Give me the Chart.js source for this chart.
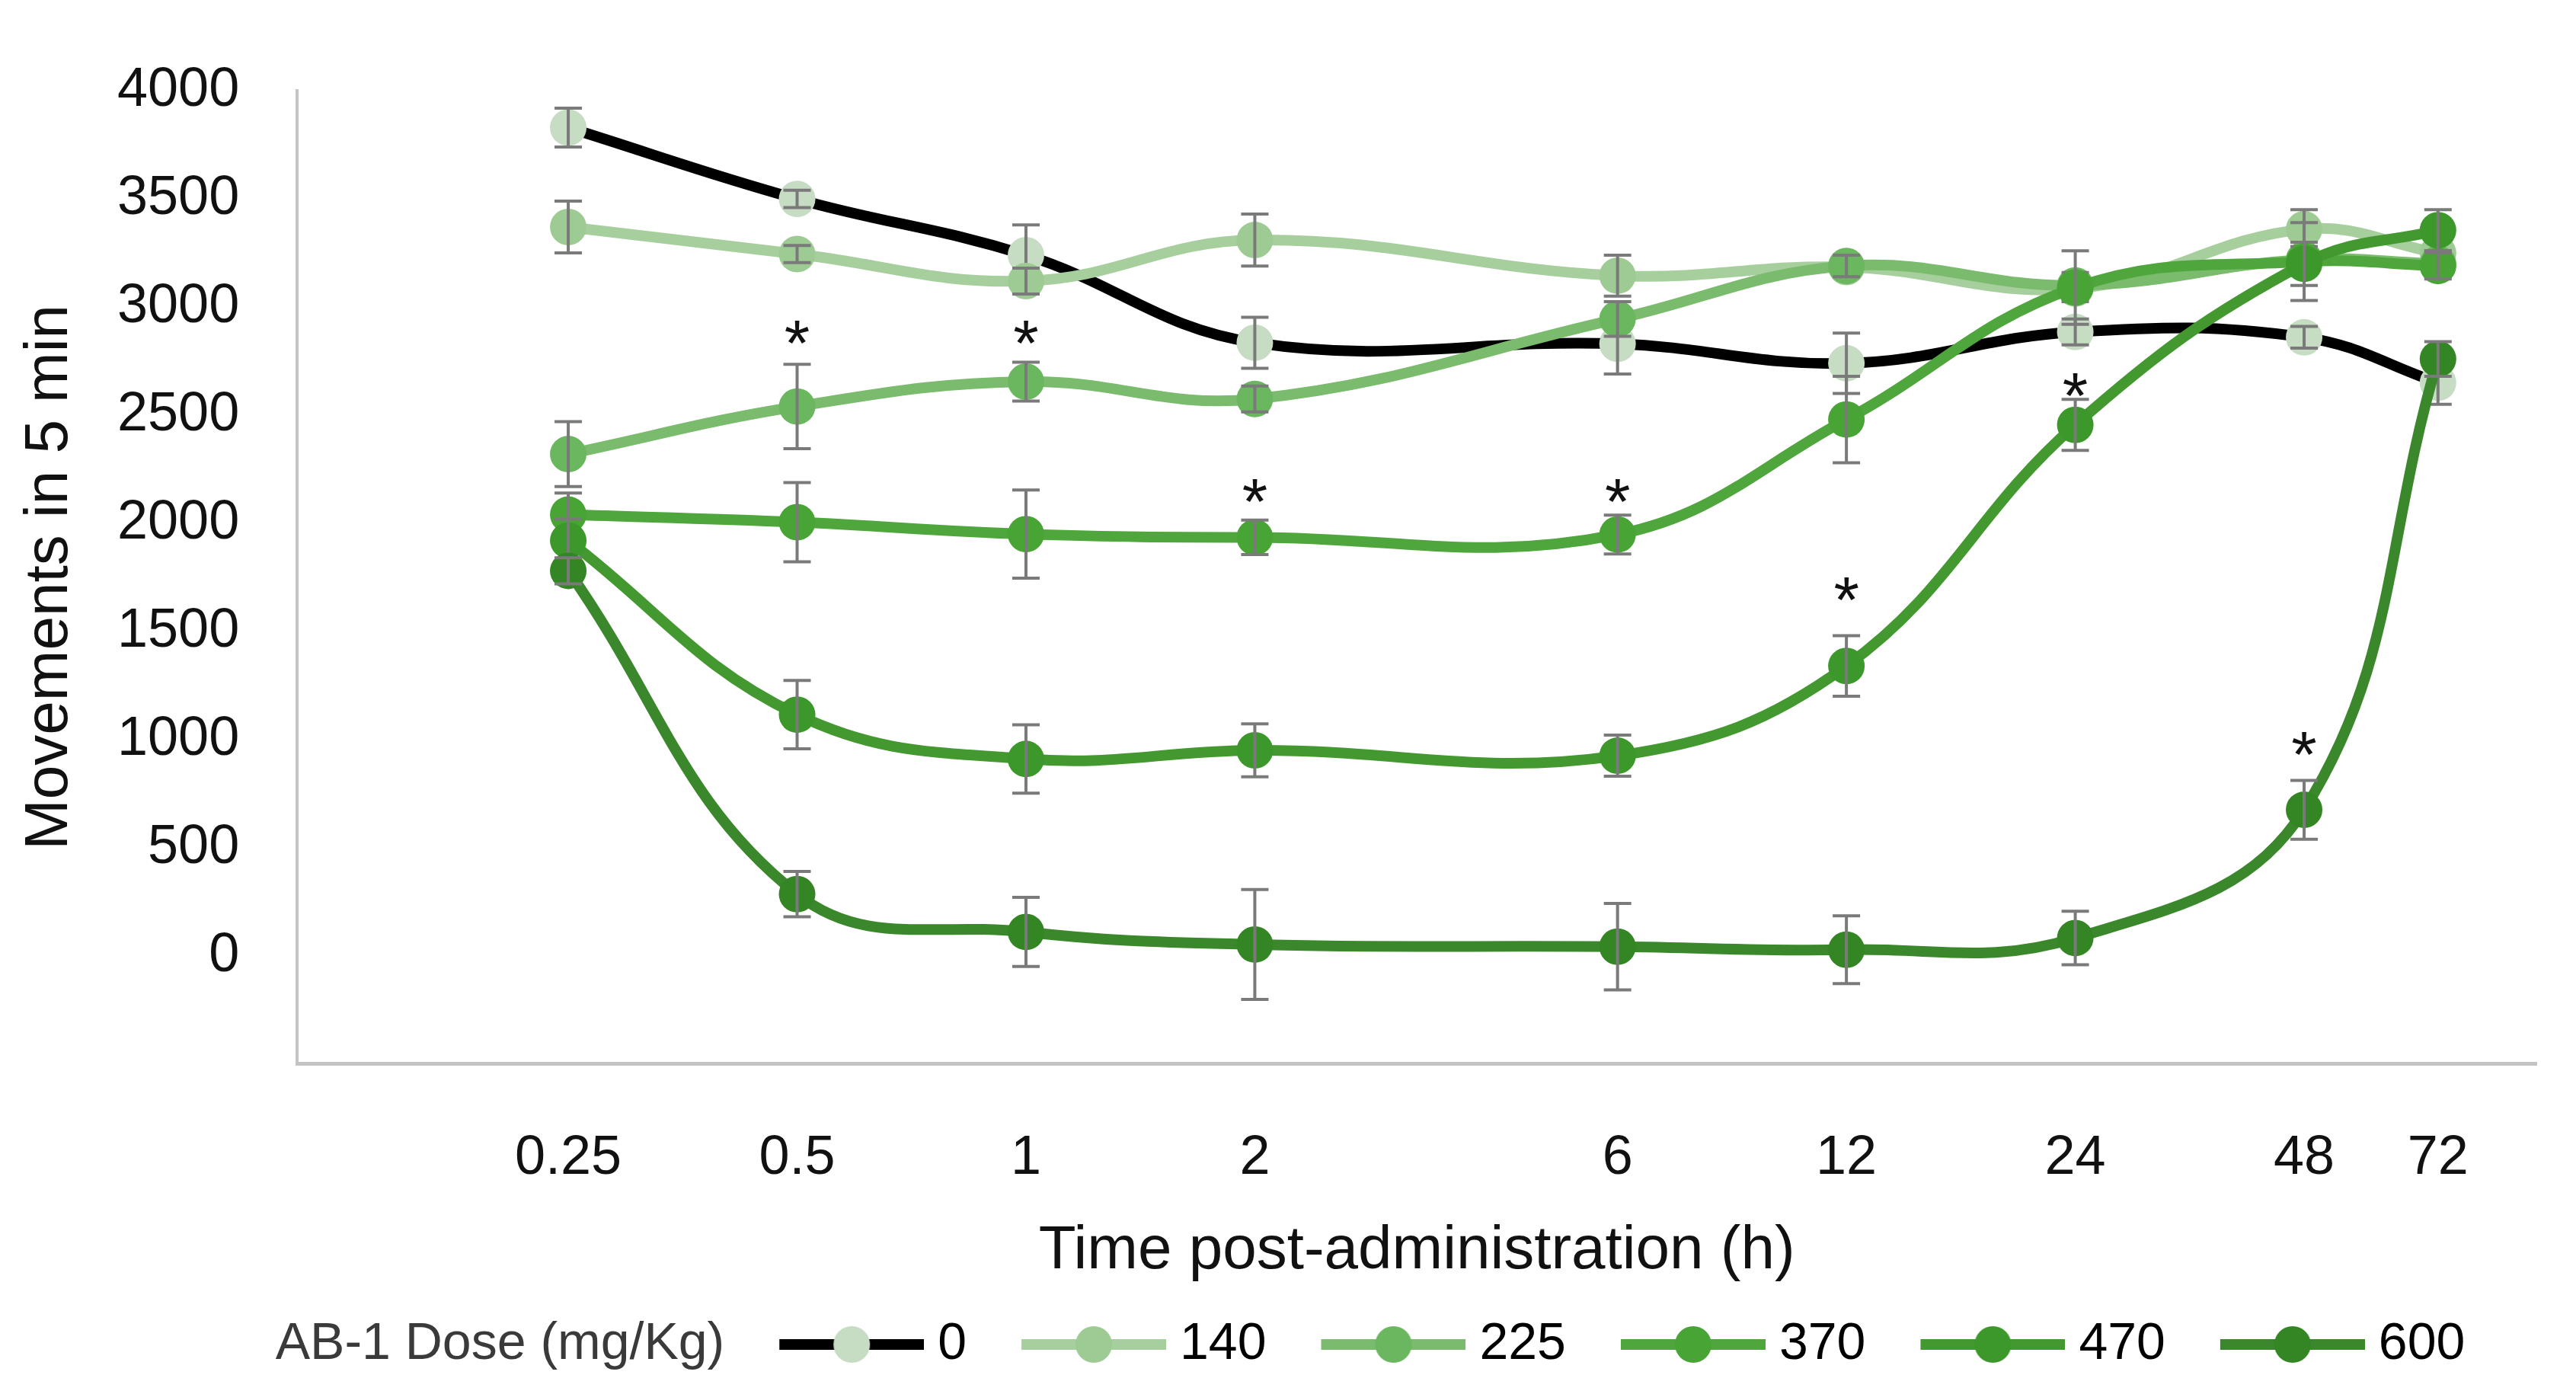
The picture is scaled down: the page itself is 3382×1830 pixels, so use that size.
<!DOCTYPE html>
<html>
<head>
<meta charset="utf-8">
<script src="https://cdn.jsdelivr.net/npm/chart.js@4.4.1/dist/chart.umd.min.js"></script>
<style>
html,body{margin:0;padding:0;background:#fff;}
#wrap{width:3382px;height:1830px;position:relative;}
</style>
</head>
<body>
<div id="wrap"><canvas id="c"></canvas></div>
<script>
// ---- data ----
const timePoints = [0.25, 0.5, 1, 2, 6, 12, 24, 48, 72];
const xTickLabels = ['0.25', '0.5', '1', '2', '6', '12', '24', '48', '72'];
const doseLabels = ['0', '140', '225', '370', '470', '600'];

const dose0   = [3830, 3500, 3240, 2835, 2830, 2740, 2885, 2860, 2650];
const dose140 = [3370, 3245, 3120, 3310, 3145, 3185, 3085, 3360, 3250];
const dose225 = [2320, 2540, 2655, 2575, 2945, 3190, 3100, 3220, 3200];
const dose370 = [2040, 2005, 1950, 1935, 1948, 2480, 3090, 3210, 3190];
const dose470 = [1920, 1115, 910, 950, 925, 1340, 2455, 3200, 3355];
const dose600 = [1780, 285, 110, 52, 42, 28, 82, 675, 2760];

const err0   = [90, 40, 140, 118, 140, 140, 60, 50, 100];
const err140 = [120, 40, 60, 120, 95, 40, 60, 90, 60];
const err225 = [150, 195, 90, 60, 80, 50, 60, 60, 60];
const err370 = [100, 183, 204, 80, 90, 200, 170, 180, 60];
const err470 = [100, 158, 158, 122, 95, 140, 118, 100, 95];
const err600 = [60, 105, 160, 254, 200, 157, 124, 136, 80];

const starX = [0.5, 1, 2, 6, 12, 24, 48];
const starY = [2900, 2900, 2170, 2170, 1715, 2660, 1000];

const yTicks = [-500, 0, 500, 1000, 1500, 2000, 2500, 3000, 3500, 4000];

// ---- styles ----
const FONT = '"Liberation Sans", Arial, sans-serif';
const lineColors  = ['#000000', '#a7cf9d', '#7abb6d', '#4ea63c', '#43992f', '#3a882b'];
const pointColors = ['#c6dcc3', '#9ecb94', '#6bb75f', '#48a434', '#3c982a', '#348523'];
const seriesData = [dose0, dose140, dose225, dose370, dose470, dose600];
const seriesErr  = [err0, err140, err225, err370, err470, err600];

const LEG_FS = 68;
const LEG_PAD = 20;
const BOXW = 280 - LEG_PAD - LEG_FS / 2;
const CANW = BOXW + LEG_FS - 36;

function makeSwatch(lc, pc) {
  const c = document.createElement('canvas');
  c.width = CANW; c.height = 54;
  const g = c.getContext('2d');
  if (lc) {
    g.strokeStyle = lc; g.lineWidth = 14;
    g.beginPath(); g.moveTo(CANW - 190, 27); g.lineTo(CANW, 27); g.stroke();
    g.fillStyle = pc;
    g.beginPath(); g.arc(CANW - 95, 27, 24, 0, Math.PI * 2); g.fill();
  }
  return c;
}

const datasets = seriesData.map((d, i) => ({
  label: doseLabels[i],
  data: timePoints.map((t, j) => ({x: t, y: d[j]})),
  errors: seriesErr[i],
  borderColor: lineColors[i],
  backgroundColor: pointColors[i],
  pointBackgroundColor: pointColors[i],
  pointBorderColor: pointColors[i],
  pointBorderWidth: 0,
  pointRadius: 24,
  pointHoverRadius: 24,
  borderWidth: 14,
  tension: 0.4,
  fill: false,
  clip: false,
  order: 6 - i
}));

const errorBars = {
  id: 'errorBars',
  afterDatasetDraw(chart, args) {
    const ds = chart.data.datasets[args.index];
    const meta = args.meta;
    const ys = chart.scales.y;
    const ctx = chart.ctx;
    ctx.save();
    ctx.strokeStyle = '#7a7a7a';
    ctx.lineWidth = 4;
    meta.data.forEach((pt, j) => {
      const v = ds.data[j].y, e = ds.errors[j];
      const y1 = ys.getPixelForValue(v + e), y2 = ys.getPixelForValue(v - e);
      const x = pt.x;
      ctx.beginPath();
      ctx.moveTo(x, y1); ctx.lineTo(x, y2);
      ctx.moveTo(x - 18, y1); ctx.lineTo(x + 18, y1);
      ctx.moveTo(x - 18, y2); ctx.lineTo(x + 18, y2);
      ctx.stroke();
    });
    ctx.restore();
  }
};

const stars = {
  id: 'stars',
  afterDatasetsDraw(chart) {
    const ctx = chart.ctx, xs = chart.scales.x, ys = chart.scales.y;
    ctx.save();
    ctx.fillStyle = '#111';
    ctx.font = '86px ' + FONT;
    ctx.textAlign = 'center';
    ctx.textBaseline = 'alphabetic';
    starX.forEach((t, i) => {
      ctx.fillText('*', xs.getPixelForValue(t), ys.getPixelForValue(starY[i]) + 0.57 * 86);
    });
    ctx.restore();
  }
};

new Chart(document.getElementById('c'), {
  type: 'line',
  data: { datasets },
  plugins: [errorBars, stars],
  options: {
    responsive: true,
    maintainAspectRatio: false,
    devicePixelRatio: 1,
    animation: false,
    events: [],
    layout: { padding: { top: 103, right: 52, bottom: 21, left: 8 } },
    plugins: {
      tooltip: { enabled: false },
      legend: {
        position: 'bottom',
        align: 'center',
        labels: {
          usePointStyle: true,
          pointStyleWidth: BOXW,
          boxHeight: LEG_FS,
          padding: LEG_PAD,
          color: '#000',
          font: { family: FONT, size: LEG_FS },
          generateLabels(chart) {
            const items = [{
              text: 'AB-1 Dose (mg/Kg)', pointStyle: makeSwatch(null, null),
              fillStyle: 'rgba(0,0,0,0)', strokeStyle: 'rgba(0,0,0,0)', lineWidth: 0,
              fontColor: '#3a3a3a', hidden: false, datasetIndex: -1
            }];
            chart.data.datasets.forEach((ds, i) => items.push({
              text: ds.label, pointStyle: makeSwatch(lineColors[i], pointColors[i]),
              fillStyle: 'rgba(0,0,0,0)', strokeStyle: 'rgba(0,0,0,0)', lineWidth: 0,
              fontColor: '#000', hidden: false, datasetIndex: i
            }));
            return items;
          }
        }
      }
    },
    scales: {
      x: {
        type: 'logarithmic',
        min: 0.11,
        max: 97,
        grid: { display: false, drawTicks: false, tickLength: 0 },
        border: { display: true, color: '#c4c4c4', width: 5 },
        afterBuildTicks(axis) { axis.ticks = timePoints.map(v => ({ value: v })); },
        ticks: {
          autoSkip: false, maxRotation: 0, minRotation: 0,
          padding: 81,
          color: '#111',
          font: { family: FONT, size: 72 },
          callback(v) { const i = timePoints.indexOf(v); return i >= 0 ? xTickLabels[i] : ''; }
        },
        title: {
          display: true, text: 'Time post-administration (h)',
          color: '#111', font: { family: FONT, size: 80 },
          padding: { top: -50, bottom: 20 }
        }
      },
      y: {
        min: -500, max: 4000,
        grid: { display: false, drawTicks: false, tickLength: 0 },
        border: { display: true, color: '#c4c4c4', width: 4 },
        afterBuildTicks(axis) { axis.ticks = yTicks.map(v => ({ value: v })); },
        ticks: {
          padding: 76,
          color: '#111',
          font: { family: FONT, size: 72 },
          callback(v) { return v < 0 ? '' : String(v); }
        },
        title: {
          display: true, text: 'Movements in 5 min',
          color: '#111', font: { family: FONT, size: 80 },
          padding: { top: 10, bottom: -36 }
        }
      }
    }
  }
});
</script>
</body>
</html>
